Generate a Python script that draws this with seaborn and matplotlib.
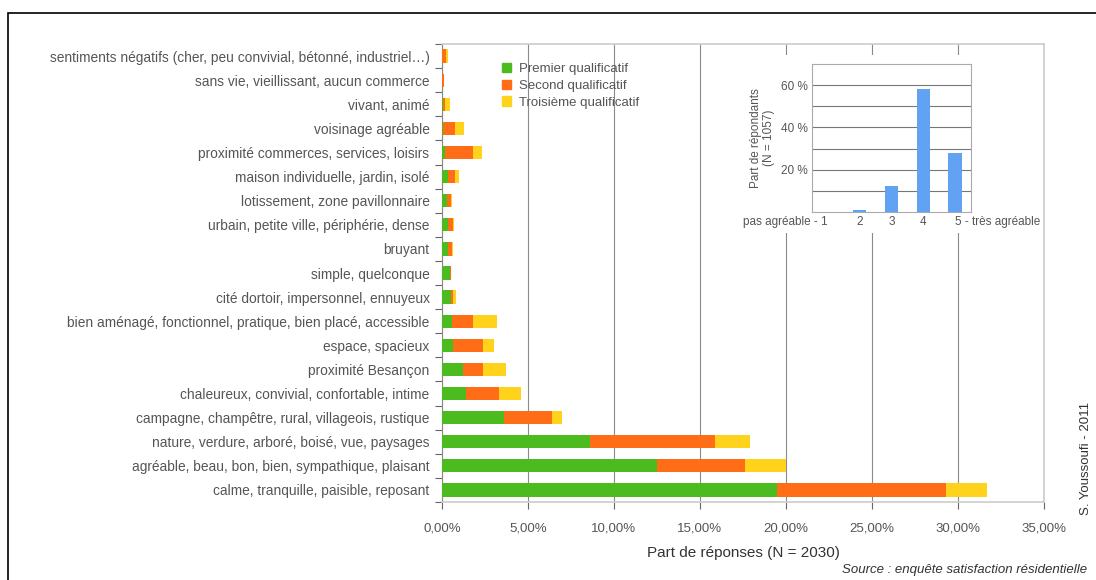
import matplotlib
matplotlib.use("Agg")
import matplotlib.pyplot as plt
import matplotlib.patches as mpatches
import numpy as np
import pandas as pd
import seaborn as sns

sns.set_theme(style="white")
plt.rcParams["font.family"] = ["Liberation Sans", "DejaVu Sans"]

# qualificatifs, du haut vers le bas
categories = [
    "sentiments négatifs (cher, peu convivial, bétonné, industriel…)",
    "sans vie, vieillissant, aucun commerce",
    "vivant, animé",
    "voisinage agréable",
    "proximité commerces, services, loisirs",
    "maison individuelle, jardin, isolé",
    "lotissement, zone pavillonnaire",
    "urbain, petite ville, périphérie, dense",
    "bruyant",
    "simple, quelconque",
    "cité dortoir, impersonnel, ennuyeux",
    "bien aménagé, fonctionnel, pratique, bien placé, accessible",
    "espace, spacieux",
    "proximité Besançon",
    "chaleureux, convivial, confortable, intime",
    "campagne, champêtre, rural, villageois, rustique",
    "nature, verdure, arboré, boisé, vue, paysages",
    "agréable, beau, bon, bien, sympathique, plaisant",
    "calme, tranquille, paisible, reposant",
]
premier = [0.0, 0.0, 0.05, 0.05, 0.15, 0.35, 0.3, 0.35, 0.35, 0.45, 0.5,
           0.6, 0.65, 1.2, 1.4, 3.6, 8.6, 12.5, 19.5]
second = [0.25, 0.1, 0.1, 0.7, 1.65, 0.4, 0.25, 0.3, 0.25, 0.05, 0.15,
          1.2, 1.75, 1.2, 1.9, 2.8, 7.3, 5.1, 9.8]
troisieme = [0.1, 0.0, 0.3, 0.55, 0.5, 0.25, 0.05, 0.05, 0.05, 0.05, 0.15,
             1.4, 0.6, 1.3, 1.3, 0.6, 2.0, 2.4, 2.4]

# encart : note d'agrément
notes = ["pas agréable - 1", "2", "3", "4", "5 - très agréable"]
part_notes = [0.2, 0.8, 12.2, 58.0, 27.8]

green = "#4cbb1f"
orange = "#ff6d16"
yellow = "#ffd21c"
txt = "#555555"

df = pd.DataFrame({"cat": categories, "p1": premier, "p2": second, "p3": troisieme})
df["c1"] = df["p1"]
df["c2"] = df["p1"] + df["p2"]
df["c3"] = df["c2"] + df["p3"]

fig = plt.figure(figsize=(10.96, 5.8), dpi=100)
ax = fig.add_axes([442 / 1096, 1 - 502 / 580, (1044 - 442) / 1096, (502 - 44) / 580])

for col, c in [("c3", yellow), ("c2", orange), ("c1", green)]:
    sns.barplot(data=df, x=col, y="cat", orient="h", color=c, width=0.55,
                saturation=1, linewidth=0, ax=ax, zorder=3)

ax.set_xlim(0, 35)
ax.set_ylim(len(categories) - 0.5, -0.5)
ax.set_xticks(np.arange(0, 36, 5))
ax.set_xticklabels([f"{v:.2f}%".replace(".", ",") for v in np.arange(0, 36, 5)])
ax.xaxis.grid(True, color="#8a8a8a", linewidth=0.8, zorder=0)
ax.yaxis.grid(False)
ax.set_ylabel("")
ax.set_xlabel("Part de réponses (N = 2030)", fontsize=11, color="#333333", labelpad=8)
ax.set_yticks(np.arange(len(categories)))
ax.set_yticklabels(categories)
ax.set_yticks(np.arange(len(categories) + 1) - 0.5, minor=True)
ax.tick_params(axis="y", which="major", length=0, labelsize=9.9, labelcolor=txt, pad=9)
ax.tick_params(axis="y", which="minor", length=5, width=0.8, color="#666666", left=True)
ax.tick_params(axis="x", length=5, width=0.8, color="#666666", bottom=True,
               labelsize=9.5, labelcolor=txt, pad=10)
for s in ["top", "right", "bottom"]:
    ax.spines[s].set_color("#cccccc")
    ax.spines[s].set_linewidth(1.2)
ax.spines["left"].set_color("#888888")
ax.spines["left"].set_linewidth(0.8)

handles = [mpatches.Patch(color=green, label="Premier qualificatif"),
           mpatches.Patch(color=orange, label="Second qualificatif"),
           mpatches.Patch(color=yellow, label="Troisième qualificatif")]
leg = ax.legend(handles=handles, loc="upper left", bbox_to_anchor=(0.08, 0.985),
                frameon=False, fontsize=9.5, handlelength=0.7, handleheight=0.7,
                handletextpad=0.6, labelspacing=0.35)
for t in leg.get_texts():
    t.set_color(txt)

# fond blanc de l'encart
fig.patches.append(mpatches.Rectangle((738 / 1096, 1 - 233 / 580), (1043 - 738) / 1096,
                                      (233 - 55) / 580, transform=fig.transFigure,
                                      facecolor="white", edgecolor="none", zorder=1))

ins = fig.add_axes([812 / 1096, 1 - 212 / 580, (971 - 812) / 1096, (212 - 64) / 580])
ins.set_zorder(2)
ins_df = pd.DataFrame({"note": notes, "part": part_notes})
sns.barplot(data=ins_df, x="note", y="part", color="#62a2f2", width=0.42,
            saturation=1, linewidth=0, ax=ins, zorder=3)
ins.set_ylim(0, 70)
ins.set_xlim(-0.5, 4.5)
ins.set_yticks(np.arange(10, 70, 10))
ins.set_yticklabels(["" if v % 20 else f"{v} %" for v in range(10, 70, 10)])
ins.yaxis.grid(True, color="#777777", linewidth=0.8, zorder=0)
ins.xaxis.grid(False)
ins.tick_params(length=0, labelsize=8.5, labelcolor=txt, pad=3)
ins.set_xlabel("")
ins.set_ylabel("Part de répondants\n(N = 1057)", fontsize=8.5, color=txt, labelpad=4)
labs = ins.get_xticklabels()
labs[0].set_ha("right")
labs[-1].set_ha("left")
for s in ins.spines.values():
    s.set_color("#aaaaaa")
    s.set_linewidth(0.8)

fig.text(842 / 1096, 4 / 580, "Source : enquête satisfaction résidentielle", ha="left",
         va="bottom", fontsize=9.5, style="italic", color="#333333")
fig.text(1086 / 1096, 1 - 515 / 580, "S. Youssoufi - 2011", rotation=90, ha="center",
         va="bottom", fontsize=9.5, color="#333333")

fig.patches.append(mpatches.Rectangle((8 / 1096, -0.01), 1.2, 1 - 13 / 580 + 0.01,
                                      transform=fig.transFigure, facecolor="none",
                                      edgecolor="black", linewidth=1.2, zorder=5))

fig.savefig("out.png", dpi=100)
